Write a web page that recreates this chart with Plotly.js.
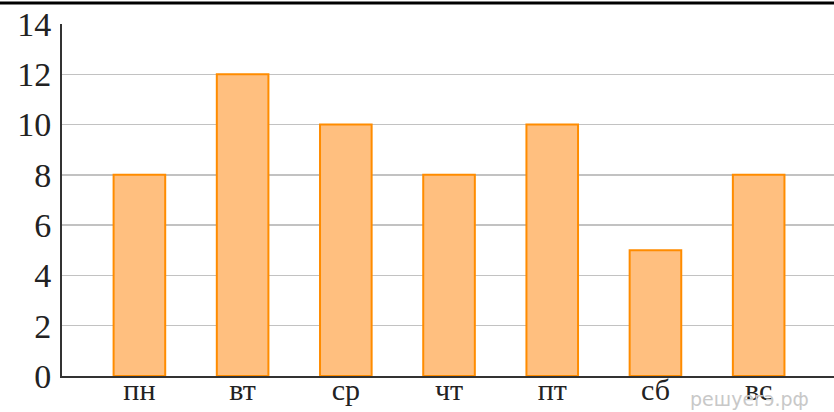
<!DOCTYPE html>
<html>
<head>
<meta charset="utf-8">
<script src="https://cdn.plot.ly/plotly-3.0.1.min.js"></script>
<style>html,body{margin:0;padding:0;background:#fff;}#chart{width:834px;height:412px;}</style>
</head>
<body>
<div id="chart"></div>
<script>
const days = ["пн", "вт", "ср", "чт", "пт", "сб", "вс"];
const values = [8, 12, 10, 8, 10, 5, 8];
const yTicks = [0, 2, 4, 6, 8, 10, 12, 14];
const watermark = "решуегэ.рф";

const trace = {
  type: "bar",
  x: days,
  y: values,
  marker: {color: "#ffbf7f", line: {color: "#ff8c00", width: 2}},
  hoverinfo: "none"
};

const layout = {
  width: 834, height: 412,
  margin: {l: 62, r: 0, t: 24, b: 36, pad: 0},
  paper_bgcolor: "#fff", plot_bgcolor: "#fff",
  showlegend: false,
  bargap: 0.5,
  font: {family: "Liberation Serif, Times New Roman, serif", color: "#222"},
  annotations: [{
    xref: "paper", yref: "paper", x: 0.89, y: -0.065,
    xanchor: "center", yanchor: "middle",
    text: watermark, showarrow: false,
    font: {family: "DejaVu Sans, sans-serif", size: 19, color: "#c8c8c8"}
  }],
  xaxis: {
    type: "category",
    range: [-0.75, 6.73],
    showgrid: false,
    showline: true, linecolor: "#333", linewidth: 2,
    ticks: "", ticklabelstandoff: -14,
    tickfont: {size: 30, family: "Liberation Serif", color: "#222"},
    fixedrange: true, zeroline: false
  },
  yaxis: {
    range: [0, 14],
    tickvals: yTicks,
    ticktext: yTicks.map(String),
    showgrid: true, gridcolor: "#c2c2c2", gridwidth: 1.5,
    showline: true, linecolor: "#333", linewidth: 2,
    ticks: "", ticklabelstandoff: 2,
    tickfont: {size: 34, family: "Liberation Serif", color: "#222"},
    zeroline: false, fixedrange: true
  },
  shapes: [{
    type: "line", xref: "paper", yref: "paper",
    x0: -0.1, x1: 1.01, y0: 1.0597, y1: 1.0597,
    line: {color: "#000", width: 3}
  }]
};

Plotly.newPlot("chart", [trace], layout, {displayModeBar: false, staticPlot: true});
</script>
</body>
</html>
